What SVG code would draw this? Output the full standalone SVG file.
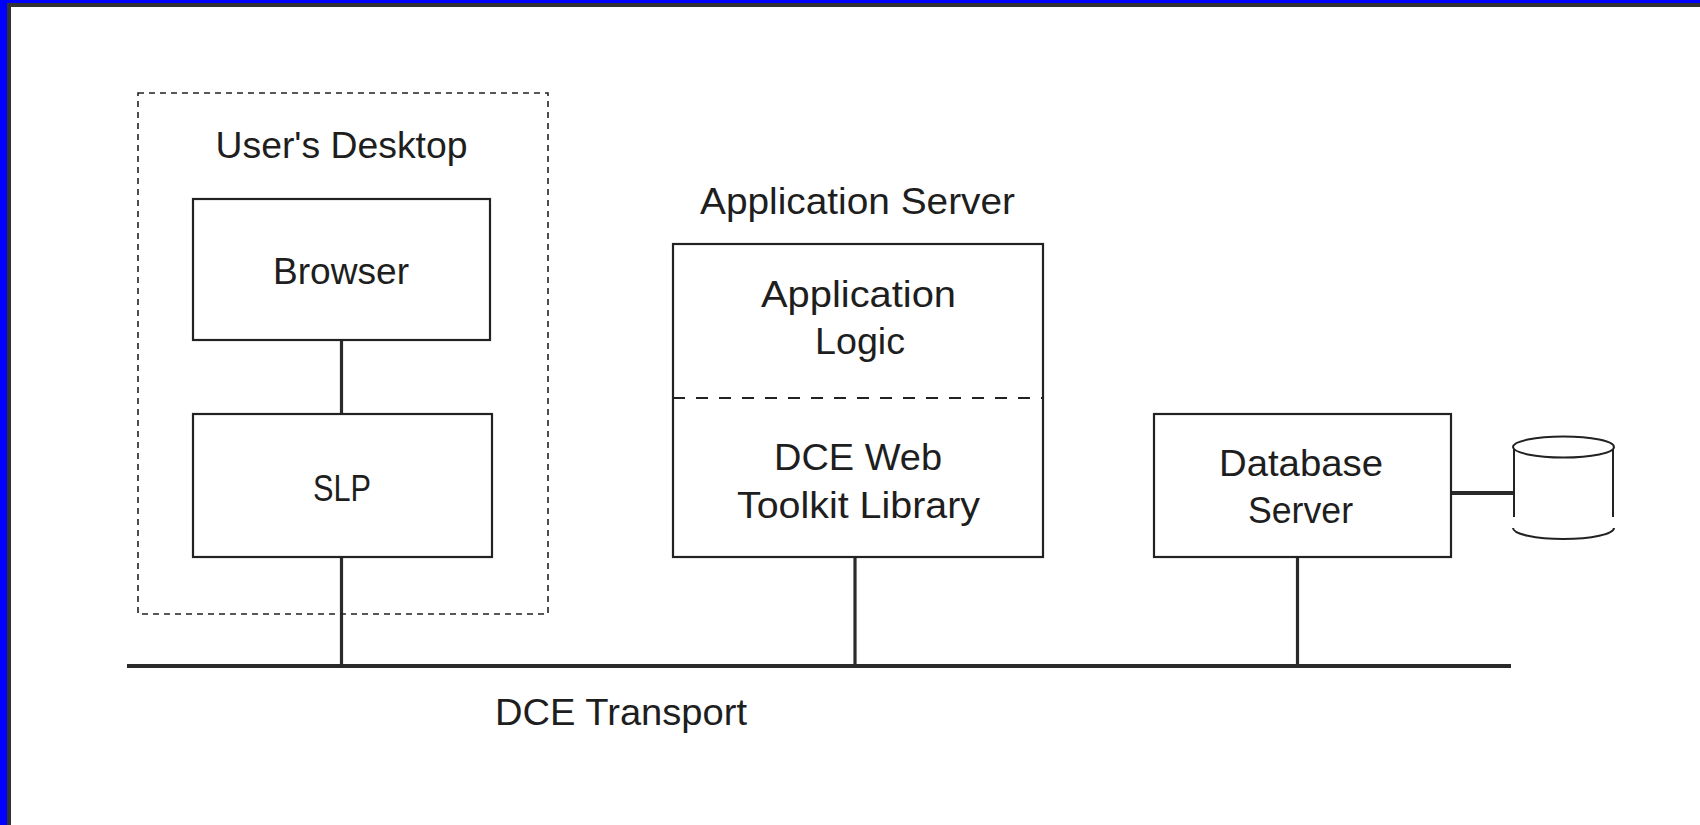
<svg xmlns="http://www.w3.org/2000/svg" width="1700" height="825" viewBox="0 0 1700 825">
<style>
.box{fill:#fff;stroke:#222;stroke-width:2.2}
.lbl{font-family:"Liberation Sans",Arial,sans-serif;font-size:36px;fill:#1e1e1e;text-anchor:middle}
.conn{stroke:#2a2a2a;stroke-width:3.2;fill:none}
.cyl{fill:#fff;stroke:#222;stroke-width:2}
</style>
<rect x="0" y="0" width="1700" height="825" fill="#fff"/>
<rect x="0" y="0" width="1700" height="3" fill="#0000ff"/>
<rect x="0" y="0" width="7" height="825" fill="#0000ff"/>
<rect x="7" y="3" width="1693" height="4" fill="#333"/>
<rect x="7" y="3" width="4" height="822" fill="#333"/>

<g id="connectors">
<line class="conn" x1="127" y1="666" x2="1511" y2="666" style="stroke-width:4"/>
<line class="conn" x1="341.5" y1="340" x2="341.5" y2="414"/>
<line class="conn" x1="341.5" y1="557" x2="341.5" y2="666"/>
<line class="conn" x1="855" y1="557" x2="855" y2="666"/>
<line class="conn" x1="1297.5" y1="557" x2="1297.5" y2="666"/>
<line class="conn" x1="1451" y1="493" x2="1514" y2="493" style="stroke-width:4"/>
</g>

<g id="users-desktop">
<rect x="138" y="93" width="410" height="521" fill="none" stroke="#222" stroke-width="1.6" stroke-dasharray="6 5"/>
<text class="lbl" x="341.5" y="158" textLength="252" lengthAdjust="spacingAndGlyphs">User's Desktop</text>
</g>

<g id="browser">
<rect class="box" x="193" y="199" width="297" height="141"/>
<text class="lbl" x="341" y="284" textLength="136" lengthAdjust="spacingAndGlyphs">Browser</text>
</g>

<g id="slp">
<rect class="box" x="193" y="414" width="299" height="143"/>
<text class="lbl" x="342" y="501" textLength="58" lengthAdjust="spacingAndGlyphs">SLP</text>
</g>

<g id="application-server">
<text class="lbl" x="857.5" y="214" textLength="315" lengthAdjust="spacingAndGlyphs">Application Server</text>
<rect class="box" x="673" y="244" width="370" height="313"/>
<line x1="673" y1="398" x2="1043" y2="398" stroke="#222" stroke-width="2" stroke-dasharray="12 11"/>
<text class="lbl" x="858.5" y="307" textLength="195" lengthAdjust="spacingAndGlyphs">Application</text>
<text class="lbl" x="860" y="354" textLength="90" lengthAdjust="spacingAndGlyphs">Logic</text>
<text class="lbl" x="858" y="470" textLength="168" lengthAdjust="spacingAndGlyphs">DCE Web</text>
<text class="lbl" x="858.5" y="518" textLength="243" lengthAdjust="spacingAndGlyphs">Toolkit Library</text>
</g>

<g id="database-server">
<rect class="box" x="1154" y="414" width="297" height="143"/>
<text class="lbl" x="1301" y="476" textLength="164" lengthAdjust="spacingAndGlyphs">Database</text>
<text class="lbl" x="1300.5" y="523" textLength="105" lengthAdjust="spacingAndGlyphs">Server</text>
</g>

<g id="database">
<path class="cyl" d="M1514 448 L1514 517 M1613 448 L1613 517"/>
<path class="cyl" d="M1513 528 A50.5 11 0 0 0 1614 528"/>
<ellipse class="cyl" cx="1563.5" cy="447" rx="50.5" ry="10.5"/>
</g>

<g id="dce-transport">
<text class="lbl" x="621" y="725" textLength="252" lengthAdjust="spacingAndGlyphs">DCE Transport</text>
</g>
</svg>
